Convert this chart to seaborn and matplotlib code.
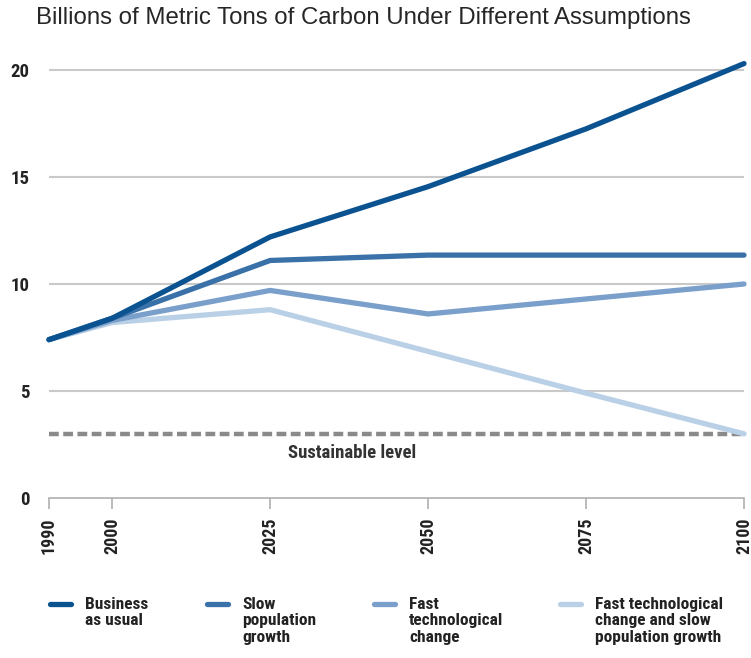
import numpy as np
import pandas as pd
import matplotlib
matplotlib.use('Agg')
import matplotlib.pyplot as plt
from matplotlib.lines import Line2D
from matplotlib import font_manager
import seaborn as sns

# datos
years = [1990, 2000, 2025, 2050, 2075, 2100]
business = [7.4, 8.4, 12.2, 14.55, 17.25, 20.3]
slow_pop = [7.4, 8.4, 11.1, 11.35, 11.35, 11.35]
fast_tech = [7.4, 8.3, 9.7, 8.6, 9.3, 10.0]
fast_slow = [7.4, 8.2, 8.8, 6.85, 4.9, 3.0]
sustainable = 3.0

series_names = ["Business\nas usual", "Slow\npopulation\ngrowth",
                "Fast\ntechnological\nchange",
                "Fast technological\nchange and slow\npopulation growth"]
colores = ["#0b5291", "#3a71a8", "#7a9fca", "#b9d0e6"]

y_ticks = [0, 5, 10, 15, 20]
x_ticks = years

df = pd.DataFrame({
    "year": years * 4,
    "carbon": business + slow_pop + fast_tech + fast_slow,
    "escenario": np.repeat(series_names, len(years)),
})

sns.set_style("white")

# buscamos una fuente angosta, si no hay usamos DejaVu condensada
nombres = {f.name for f in font_manager.fontManager.ttflist}
cond = ['DejaVu Sans']
for cand in ['Liberation Sans Narrow', 'Roboto Condensed', 'Open Sans Condensed']:
    if cand in nombres:
        cond = [cand, 'DejaVu Sans']
        break
fk = dict(family=cond, fontweight="bold", fontstretch="condensed")

fig = plt.figure(figsize=(7.51, 6.58), dpi=100)
ax = fig.add_axes([49 / 751, 160 / 658, (744 - 49) / 751, 438.7 / 658])

# grilla horizontal
for v in y_ticks[1:]:
    ax.axhline(v, color="#c9c9c9", lw=1.5, zorder=0)

# nivel sostenible
ax.axhline(sustainable, color="#8a8a8a", lw=3.2, ls=(0, (2.2, 1.0)), zorder=1)
ax.text(2038, 2.1, "Sustainable level", ha="center", va="center",
        fontsize=13.5, color="#333333", **fk)

# lineas en orden inverso para que la oscura quede arriba
for nombre, c in list(zip(series_names, colores))[::-1]:
    sub = df[df["escenario"] == nombre]
    sns.lineplot(data=sub, x="year", y="carbon", ax=ax, color=c, lw=3.8,
                 legend=False, clip_on=False, zorder=3)

ax.set_xlim(1990, 2100)
ax.set_ylim(0, 20.5)
ax.set_xlabel("")
ax.set_ylabel("")
ax.set_xticks(x_ticks)
ax.set_xticklabels([str(x) for x in x_ticks], rotation=90, fontsize=13,
                   color="#222222", **fk)
ax.set_yticks(y_ticks)
ax.set_yticklabels([str(y) for y in y_ticks], fontsize=13.5,
                   color="#222222", **fk)
ax.tick_params(axis="x", length=8, width=1.2, color="#b0b0b0", pad=6,
               bottom=True)
ax.tick_params(axis="y", length=0, pad=14)

for lado in ["top", "right", "left"]:
    ax.spines[lado].set_visible(False)
ax.spines["bottom"].set_color("#b0b0b0")
ax.spines["bottom"].set_linewidth(1.2)

fig.text(36 / 751, 1 - 18 / 658,
         "Billions of Metric Tons of Carbon Under Different Assumptions",
         fontsize=17.3, family="Liberation Sans", va="center", ha="left")

# leyenda armada a mano: muestra de color y texto alineado a la primera linea
leg_x = [50, 207, 374, 560]
for x0, nombre, c in zip(leg_x, series_names, colores):
    fig.add_artist(Line2D([x0 / 751, (x0 + 21) / 751],
                          [1 - 604 / 658, 1 - 604 / 658],
                          color=c, lw=3.8, transform=fig.transFigure))
    fig.text((x0 + 35) / 751, 1 - 597 / 658, nombre, va="top", ha="left",
             fontsize=12.5, color="#222222", linespacing=1.12, **fk)

fig.savefig("out.png", dpi=100)
